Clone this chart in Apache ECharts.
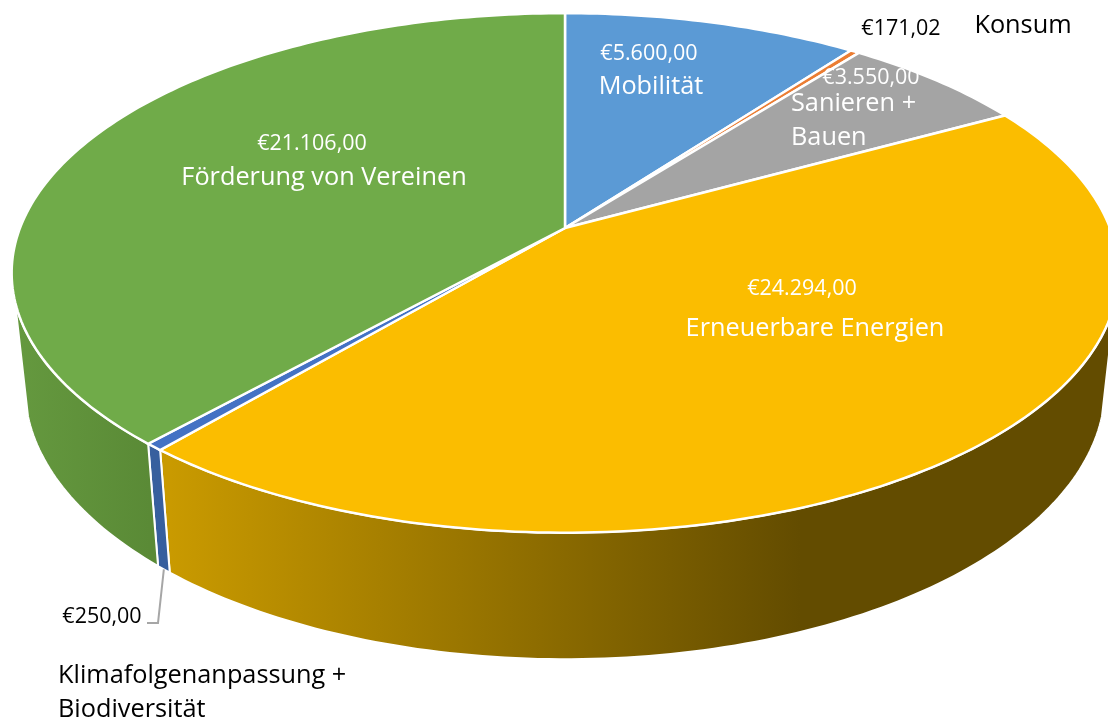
<!DOCTYPE html>
<html>
<head>
<meta charset="utf-8">
<script src="https://cdn.jsdelivr.net/npm/echarts@6/dist/echarts.min.js"></script>
<style>
html, body { margin: 0; padding: 0; background: #fff; overflow: hidden; }
#chart { width: 1108px; height: 722px; }
</style>
</head>
<body>
<div id="chart"></div>
<script>
// Daten
const categories = ['Mobilität', 'Konsum', 'Sanieren + Bauen', 'Erneuerbare Energien', 'Klimafolgenanpassung + Biodiversität', 'Förderung von Vereinen'];
const values = [5600, 171.02, 3550, 24294, 250, 21106];
const nameLines = [['Mobilität'], ['Konsum'], ['Sanieren +', 'Bauen'], ['Erneuerbare Energien'], ['Klimafolgenanpassung +', 'Biodiversität'], ['Förderung von Vereinen']];

// Farben
const faceColors = ['#5B9AD5', '#EB7D33', '#A4A4A4', '#FBBD00', '#4472C4', '#70AB49'];
const wallStops = [null, null, null, ['#C99A00', '#634C00'], ['#375F9E', '#375F9E'], ['#65993F', '#5A8A36']];
const wallGradX = [null, null, null, [170, 800], [150, 170], [15, 150]];

// Label-Layout: [x, y, align]
const valueLabelPos = [[649, 54, 'center'], [901, 29, 'center'], [871, 78, 'center'], [802, 289, 'center'], [102, 617, 'center'], [312, 144, 'center']];
const nameLabelPos = [[651, 87, 'center'], [1023, 26, 'center'], [791, 104, 'left'], [815, 329, 'center'], [58, 676, 'left'], [324, 178, 'center']];
const valueFontSize = 21.5;
const nameFontSize = 25.3;
const lineGap = 34;
const darkLabel = [false, true, false, false, true, false];

// Projektion der Kreisscheiben
const topDisc = { cx: 565, cy: 228, a: 545, b: 252, k: -0.173 };
const bottomDisc = { cx: 565, cy: 340, a: 532, b: 264, k: -0.173 };
const wallFrom = 106;
const wallTo = 254;

const total = values.reduce((s, v) => s + v, 0);

function project(disc, deg) {
  const t = deg * Math.PI / 180;
  const x = Math.sin(t);
  const y = -Math.cos(t);
  const d = 1 + disc.k * y;
  return [disc.cx + disc.a * x / d, disc.cy + disc.b * y / d];
}

function sliceAngles(index) {
  let sum = 0;
  for (let i = 0; i < index; i++) sum += values[i];
  return [sum / total * 360, (sum + values[index]) / total * 360];
}

function arcPoints(disc, from, to) {
  const pts = [];
  const n = Math.max(2, Math.ceil(Math.abs(to - from)));
  for (let i = 0; i <= n; i++) pts.push(project(disc, from + (to - from) * i / n));
  return pts;
}

function formatEuro(v) {
  const parts = v.toFixed(2).split('.');
  return '€' + parts[0].replace(/\B(?=(\d{3})+$)/g, '.') + ',' + parts[1];
}

function renderWall(params) {
  const i = params.dataIndex;
  const range = sliceAngles(i);
  const from = Math.max(range[0], wallFrom);
  const to = Math.min(range[1], wallTo);
  if (to <= from || !wallStops[i]) return { type: 'group', children: [] };
  const points = arcPoints(topDisc, from, to).concat(arcPoints(bottomDisc, to, from));
  return {
    type: 'polygon',
    shape: { points: points },
    style: {
      fill: new echarts.graphic.LinearGradient(wallGradX[i][0], 0, wallGradX[i][1], 0, [
        { offset: 0, color: wallStops[i][0] },
        { offset: 1, color: wallStops[i][1] }
      ], true),
      stroke: '#fff',
      lineWidth: 2
    }
  };
}

function renderFace(params) {
  const i = params.dataIndex;
  const range = sliceAngles(i);
  const points = [[topDisc.cx, topDisc.cy]].concat(arcPoints(topDisc, range[0], range[1]));
  return {
    type: 'polygon',
    shape: { points: points },
    style: { fill: faceColors[i], stroke: '#fff', lineWidth: 2.5 }
  };
}

function renderLabel(params) {
  const i = params.dataIndex;
  const color = darkLabel[i] ? '#000' : '#fff';
  const children = [{
    type: 'text',
    style: {
      text: formatEuro(values[i]),
      x: valueLabelPos[i][0],
      y: valueLabelPos[i][1],
      align: valueLabelPos[i][2],
      verticalAlign: 'middle',
      fill: color,
      font: valueFontSize + 'px "Open Sans"'
    }
  }];
  nameLines[i].forEach((line, n) => {
    children.push({
      type: 'text',
      style: {
        text: line,
        x: nameLabelPos[i][0],
        y: nameLabelPos[i][1] + n * lineGap,
        align: nameLabelPos[i][2],
        verticalAlign: 'middle',
        fill: color,
        font: nameFontSize + 'px "Open Sans"'
      }
    });
  });
  return { type: 'group', children: children };
}

// Führungslinie zum kleinen Segment
function renderLeader(params) {
  const range = sliceAngles(4);
  const start = project(bottomDisc, (range[0] + range[1]) / 2);
  return {
    type: 'polyline',
    shape: { points: [start, [158, 623], [147, 623]] },
    style: { fill: 'none', stroke: '#A6A6A6', lineWidth: 2 }
  };
}

const chart = echarts.init(document.getElementById('chart'), null, { renderer: 'canvas' });
const seriesData = categories.map((name, i) => ({ name: name, value: values[i] }));
chart.setOption({
  animation: false,
  backgroundColor: '#fff',
  series: [
    { type: 'custom', coordinateSystem: 'none', z: 1, silent: true, renderItem: renderWall, data: seriesData },
    { type: 'custom', coordinateSystem: 'none', z: 2, silent: true, renderItem: renderFace, data: seriesData },
    { type: 'custom', coordinateSystem: 'none', z: 3, silent: true, renderItem: renderLeader, data: [values[4]] },
    { type: 'custom', coordinateSystem: 'none', z: 4, silent: true, renderItem: renderLabel, data: seriesData }
  ]
});
</script>
</body>
</html>
